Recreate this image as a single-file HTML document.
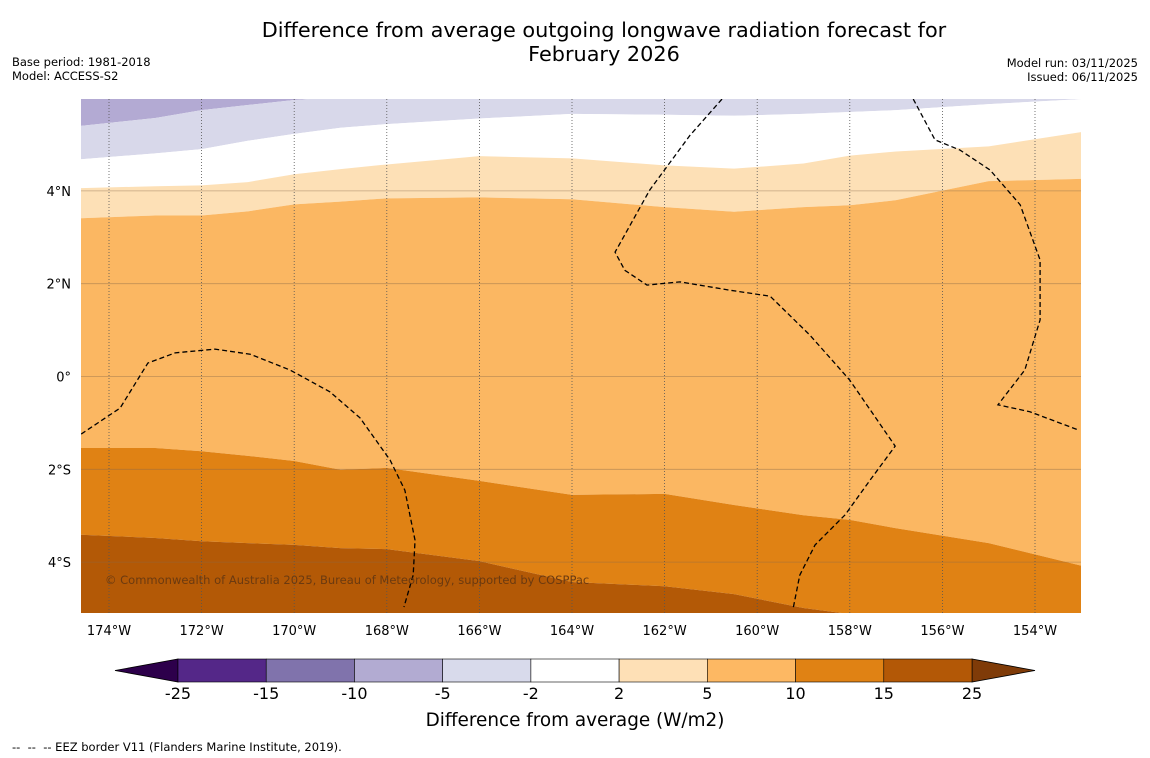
<!DOCTYPE html>
<html><head><meta charset="utf-8">
<style>
body{margin:0;background:#fff;font-family:"Liberation Sans","DejaVu Sans",sans-serif;}
#wrap{position:relative;width:1150px;height:758px;overflow:hidden;}
.t{position:absolute;font-family:"DejaVu Sans","Liberation Sans",sans-serif;color:#000;}
</style></head><body>
<div id="wrap">
<div class="t" style="left:0;width:1208px;top:19px;text-align:center;font-size:20.8px;line-height:23.5px;">Difference from average outgoing longwave radiation forecast for<br>February 2026</div>
<div class="t" style="left:12px;top:55px;font-size:11.5px;line-height:14px;">Base period: 1981-2018<br>Model: ACCESS-S2</div>
<div class="t" style="right:12px;top:56px;font-size:11.5px;line-height:14px;text-align:right;">Model run: 03/11/2025<br>Issued: 06/11/2025</div>
<div class="t" style="left:12px;top:740px;font-size:11.5px;">--&nbsp; --&nbsp; -- EEZ border V11 (Flanders Marine Institute, 2019).</div>
<svg id="svg" width="1150" height="758" style="position:absolute;left:0;top:0"></svg>
</div>
<script>
const lons=[-174.6,-173,-172,-171,-170,-169,-168,-166,-164,-162,-160.5,-159,-158,-157,-155,-153];
const bA=[5.40,5.57,5.74,5.85,5.96,6.02,6.2,6.2,6.2,6.2,6.2,6.2,6.2,6.2,6.2,6.2];
const bB=[4.68,4.81,4.90,5.08,5.23,5.36,5.44,5.56,5.66,5.64,5.62,5.66,5.70,5.74,5.87,5.98];
const bC=[4.06,4.10,4.12,4.19,4.36,4.47,4.57,4.75,4.70,4.55,4.48,4.59,4.76,4.85,4.96,5.27];
const bD=[3.41,3.47,3.47,3.56,3.71,3.77,3.84,3.86,3.82,3.65,3.55,3.65,3.69,3.80,4.21,4.26];
const bE=[-1.54,-1.54,-1.61,-1.71,-1.82,-2.01,-1.97,-2.25,-2.55,-2.53,-2.77,-2.99,-3.09,-3.27,-3.59,-4.08];
const bF=[-3.41,-3.48,-3.55,-3.59,-3.63,-3.70,-3.72,-3.98,-4.43,-4.52,-4.69,-4.99,-5.12,-5.25,-5.36,-5.46];
const eez1Lon=[-174.6,-173.76,-173.16,-172.57,-171.71,-170.95,-170.09,-169.23,-168.58,-167.93,-167.61,-167.39,-167.43,-167.63];
const eez1Lat=[-1.24,-0.68,0.29,0.51,0.59,0.48,0.14,-0.33,-0.89,-1.80,-2.45,-3.53,-4.28,-4.97];
const eez2Lon=[-160.76,-161.45,-162.32,-163.07,-162.86,-162.38,-161.67,-160.59,-159.72,-158.86,-158.0,-157.02,-157.56,-158.10,-158.75,-159.08,-159.23];
const eez2Lat=[5.98,5.20,4.02,2.68,2.29,1.97,2.04,1.86,1.73,0.89,-0.08,-1.50,-2.23,-2.98,-3.63,-4.28,-5.03];
const eez3Lon=[-156.63,-156.16,-155.62,-154.97,-154.32,-153.89,-153.89,-154.22,-154.80,-154.11,-153.07];
const eez3Lat=[5.98,5.10,4.88,4.45,3.70,2.51,1.22,0.14,-0.61,-0.76,-1.15];
const lonTicks=[-174,-172,-170,-168,-166,-164,-162,-160,-158,-156,-154];
const latTicks=[4,2,0,-2,-4];
const latLabels=["4°N","2°N","0°","2°S","4°S"];
const cbLabels=["-25","-15","-10","-5","-2","2","5","10","15","25"];
const cbColors=["#542788","#8073ac","#b2abd2","#d8daeb","#ffffff","#fee0b6","#fdb863","#e08214","#b35806"];

const X0=81,X1=1081,Y0=99,Y1=613;
const xs=lon=>109+(lon+174)*46.3;
const ys=lat=>376.5-lat*46.4;
const svg=document.getElementById('svg');
const NS="http://www.w3.org/2000/svg";
function mk(tag,at){const e=document.createElementNS(NS,tag);for(const k in at)e.setAttribute(k,at[k]);svg.appendChild(e);return e;}
function bandPath(top,bot){
  let d="";
  lons.forEach((l,i)=>{const x=i==0?X0-1:(i==lons.length-1?X1+1:xs(l));d+=(i?"L":"M")+x+","+(top?ys(top[i]):Y0-5);});
  for(let i=lons.length-1;i>=0;i--){const x=i==0?X0-1:(i==lons.length-1?X1+1:xs(lons[i]));d+="L"+x+","+(bot?ys(bot[i]):Y1+5);}
  return d+"Z";
}
const defs=mk('defs',{});
const cp=document.createElementNS(NS,'clipPath');cp.setAttribute('id','clip');defs.appendChild(cp);
const cr=document.createElementNS(NS,'rect');cr.setAttribute('x',X0);cr.setAttribute('y',Y0);cr.setAttribute('width',X1-X0);cr.setAttribute('height',Y1-Y0);cp.appendChild(cr);
const g=mk('g',{'clip-path':'url(#clip)'});


const bands=[[null,bA,"#b3aad3","band-neg10-neg5"],[bA,bB,"#d8d8ea","band-neg5-neg2"],[bB,bC,"#ffffff","band-neg2-2"],[bC,bD,"#fde0b6","band-2-5"],[bD,bE,"#fbb762","band-5-10"],[bE,bF,"#e08214","band-10-15"],[bF,null,"#b35906","band-15-25"]];
bands.forEach(b=>{const p=document.createElementNS(NS,'path');p.setAttribute('d',bandPath(b[0],b[1]));p.setAttribute('fill',b[2]);


g.appendChild(p);});
lonTicks.forEach(l=>{const ln=document.createElementNS(NS,'line');ln.setAttribute('x1',xs(l));ln.setAttribute('x2',xs(l));ln.setAttribute('y1',Y0);ln.setAttribute('y2',Y1);ln.setAttribute('stroke','#555');ln.setAttribute('stroke-width','0.8');ln.setAttribute('stroke-dasharray','1,2');


g.appendChild(ln);});
latTicks.forEach(l=>{const ln=document.createElementNS(NS,'line');ln.setAttribute('x1',X0);ln.setAttribute('x2',X1);ln.setAttribute('y1',ys(l));ln.setAttribute('y2',ys(l));ln.setAttribute('stroke','#8a6a4a');ln.setAttribute('stroke-opacity','0.5');ln.setAttribute('stroke-width','0.8');


g.appendChild(ln);});
[[eez1Lon,eez1Lat],[eez2Lon,eez2Lat],[eez3Lon,eez3Lat]].forEach(e=>{const p=document.createElementNS(NS,'polyline');p.setAttribute('points',e[0].map((l,i)=>xs(l)+","+ys(e[1][i])).join(" "));p.setAttribute('fill','none');p.setAttribute('stroke','#000');p.setAttribute('stroke-width','1.3');p.setAttribute('stroke-dasharray','5,3');


g.appendChild(p);});
svg.appendChild(g);
const cpy=mk('text',{x:105,y:584,'font-size':11.5,fill:'#6b3a10','font-family':'DejaVu Sans, Liberation Sans, sans-serif'});
cpy.textContent="© Commonwealth of Australia 2025, Bureau of Meteorology, supported by COSPPac";


lonTicks.forEach(l=>{const t=mk('text',{x:xs(l),y:635,'font-size':13,'text-anchor':'middle','font-family':'DejaVu Sans, Liberation Sans, sans-serif'});t.textContent=Math.abs(l)+"°W";

});
latTicks.forEach((l,i)=>{const t=mk('text',{x:71,y:ys(l)+5,'font-size':13,'text-anchor':'end','font-family':'DejaVu Sans, Liberation Sans, sans-serif'});t.textContent=latLabels[i];

});
const cbX0=178,cbX1=972,cbY=659,cbH=23,w=(cbX1-cbX0)/cbColors.length;
const lt=mk('polygon',{points:`115,${cbY+cbH/2} ${cbX0},${cbY} ${cbX0},${cbY+cbH}`,fill:'#2d004b',stroke:'#000','stroke-width':0.8});


const rt=mk('polygon',{points:`1035,${cbY+cbH/2} ${cbX1},${cbY} ${cbX1},${cbY+cbH}`,fill:'#7f3b08',stroke:'#000','stroke-width':0.8});


cbColors.forEach((c,i)=>{const r=mk('rect',{x:cbX0+i*w,y:cbY,width:w,height:cbH,fill:c,stroke:'#000','stroke-width':0.6});

});
cbLabels.forEach((s,i)=>{const t=mk('text',{x:cbX0+i*w,y:699,'font-size':16,'text-anchor':'middle','font-family':'DejaVu Sans, Liberation Sans, sans-serif'});t.textContent=s;

});
const ct=mk('text',{x:575,y:726,'font-size':18.4,'text-anchor':'middle','font-family':'DejaVu Sans, Liberation Sans, sans-serif'});
ct.textContent="Difference from average (W/m2)";


</script>
</body></html>
